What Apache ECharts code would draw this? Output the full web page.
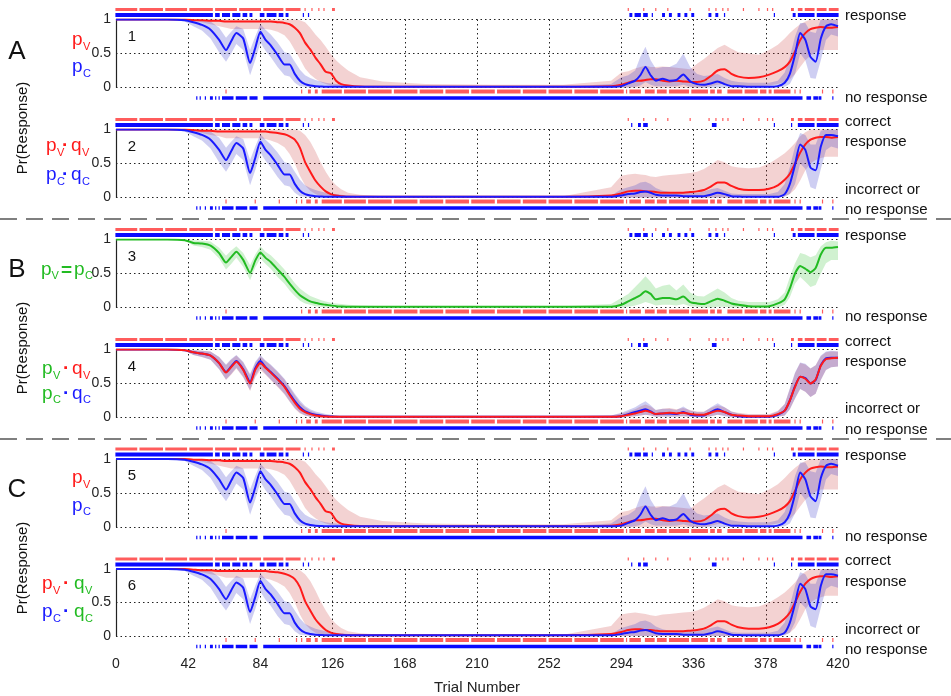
<!DOCTYPE html>
<html><head><meta charset="utf-8">
<script src="https://cdn.jsdelivr.net/npm/echarts@6/dist/echarts.min.js"></script>
<style>html,body{margin:0;padding:0;background:#fff}#c{width:951px;height:696px}</style>
</head><body><div id="c"></div><script>
// ---------- DATA ----------
var T = [0,30,40,45,50,55,60,64,67,70, 74,78,81,84,87,90,94,98,101,104, 107,110,113,116,119,122,125,128,131,135,
  142,155,180,220,260,288,294,298,302,305, 308,311,314,318,322,326,330,334,338,342, 346,350,354,358,362,368,374,380,385,389,
  392,395,398,401,404,407,410,413,416,420];
var xTicks = [0,42,84,126,168,210,252,294,336,378,420];

// panel 1 & 5 : p_V (red) and p_C (blue)
var pV1 = [1,1,1,0.99,0.99,0.98,0.98,0.97,0.97,0.97, 0.97,0.97,0.97,0.97,0.97,0.97,0.96,0.95,0.93,0.88,
  0.80,0.66,0.56,0.44,0.34,0.23,0.21,0.10,0.05,0.03, 0.015,0.01,0.01,0.01,0.01,0.02,0.04,0.07,0.10,0.10,
  0.11,0.12,0.12,0.10,0.09,0.10,0.09,0.08,0.08,0.10, 0.17,0.25,0.27,0.20,0.16,0.14,0.15,0.19,0.24,0.30,
  0.38,0.53,0.70,0.80,0.86,0.88,0.89,0.88,0.88,0.89];
var pV1Hi = [1,1,1,1,1,1,1,1,1,1, 1,1,1,1,1,1,1,1,1,1,
  0.99,0.96,0.88,0.78,0.70,0.60,0.49,0.40,0.33,0.25, 0.15,0.09,0.05,0.04,0.04,0.10,0.22,0.24,0.28,0.30,
  0.32,0.30,0.30,0.31,0.30,0.29,0.28,0.27,0.35,0.42, 0.50,0.58,0.63,0.57,0.52,0.50,0.48,0.55,0.63,0.72,
  0.80,0.87,0.93,0.97,1,1,1,1,1,1];
var pV1Lo = [1,1,1,0.99,0.96,0.93,0.90,0.88,0.86,0.86, 0.86,0.86,0.86,0.86,0.86,0.85,0.82,0.77,0.68,0.55,
  0.42,0.28,0.19,0.13,0.08,0.05,0.03,0.02,0.01,0, 0,0,0,0,0,0,0,0,0,0,
  0,0,0,0,0,0,0,0,0,0, 0.02,0.04,0.05,0.03,0.02,0.02,0.02,0.03,0.05,0.08,
  0.12,0.20,0.30,0.40,0.47,0.52,0.55,0.55,0.55,0.55];
var pC1 = [1,1,0.99,0.96,0.92,0.85,0.70,0.55,0.68,0.80, 0.72,0.36,0.58,0.82,0.70,0.62,0.48,0.34,0.34,0.20,
  0.10,0.05,0.03,0.02,0.015,0.01,0.01,0.01,0.01,0.01, 0.01,0.01,0.01,0.01,0.01,0.01,0.02,0.06,0.10,0.18,
  0.30,0.18,0.10,0.13,0.10,0.11,0.19,0.09,0.05,0.04, 0.06,0.09,0.05,0.02,0.02,0.01,0.01,0.01,0.02,0.07,
  0.20,0.48,0.80,0.70,0.45,0.38,0.72,0.90,0.93,0.90];
var pC1Hi = [1,1,1,1,1,0.97,0.88,0.73,0.82,0.90, 0.86,0.55,0.75,0.93,0.85,0.78,0.66,0.52,0.50,0.38,
  0.26,0.18,0.14,0.11,0.09,0.07,0.06,0.05,0.04,0.03, 0.02,0.02,0.01,0.01,0.01,0.05,0.15,0.18,0.25,0.45,
  0.60,0.40,0.28,0.30,0.30,0.35,0.50,0.30,0.20,0.17, 0.18,0.20,0.14,0.10,0.08,0.07,0.07,0.07,0.10,0.22,
  0.45,0.75,0.95,0.95,0.82,0.80,1,1,1,1];
var pC1Lo = [1,1,0.97,0.90,0.84,0.72,0.52,0.38,0.50,0.64, 0.55,0.18,0.40,0.66,0.54,0.45,0.30,0.18,0.16,0.07,
  0.02,0.01,0,0,0,0,0,0,0,0, 0,0,0,0,0,0,0,0,0.01,0.03,
  0.08,0.04,0.02,0.02,0.02,0.02,0.04,0.01,0,0, 0,0,0,0,0,0,0,0,0,0.01,
  0.05,0.20,0.50,0.40,0.14,0.13,0.40,0.70,0.78,0.75];

// panel 2 & 6 : p_V*q_V (red) and p_C*q_C (blue)
var pV2 = [1,1,1,0.99,0.98,0.98,0.97,0.97,0.97,0.97, 0.97,0.97,0.97,0.97,0.97,0.96,0.95,0.93,0.90,0.85,
  0.73,0.52,0.38,0.25,0.16,0.09,0.05,0.03,0.02,0.01, 0.01,0.01,0.01,0.01,0.01,0.03,0.06,0.09,0.10,0.10,
  0.09,0.09,0.08,0.07,0.07,0.07,0.07,0.08,0.09,0.11, 0.16,0.22,0.22,0.17,0.13,0.11,0.11,0.13,0.18,0.26,
  0.35,0.50,0.66,0.78,0.85,0.88,0.89,0.89,0.88,0.89];
var pV2Hi = [1,1,1,1,1,1,1,1,1,1, 1,1,1,1,1,1,1,1,1,1,
  0.98,0.92,0.82,0.68,0.52,0.38,0.26,0.18,0.12,0.07, 0.04,0.02,0.02,0.02,0.02,0.15,0.32,0.34,0.35,0.34,
  0.33,0.31,0.30,0.32,0.33,0.34,0.35,0.36,0.38,0.42, 0.48,0.55,0.52,0.46,0.44,0.43,0.44,0.50,0.58,0.65,
  0.72,0.80,0.90,0.96,1,1,1,1,1,1];
var pV2Lo = [1,1,1,0.98,0.95,0.92,0.90,0.87,0.87,0.87, 0.87,0.87,0.87,0.87,0.86,0.84,0.80,0.74,0.64,0.50,
  0.32,0.18,0.10,0.05,0.02,0.01,0,0,0,0, 0,0,0,0,0,0,0,0,0,0,
  0,0,0,0,0,0,0,0,0,0, 0,0,0,0,0,0,0,0,0,0.02,
  0.05,0.12,0.25,0.40,0.50,0.55,0.58,0.60,0.60,0.60];
var pC2 = [1,1,0.99,0.96,0.92,0.85,0.70,0.55,0.68,0.80, 0.72,0.36,0.58,0.82,0.70,0.62,0.48,0.34,0.34,0.20,
  0.10,0.05,0.03,0.02,0.015,0.01,0.01,0.01,0.01,0.01, 0.01,0.01,0.01,0.01,0.01,0.01,0.03,0.05,0.06,0.08,
  0.09,0.07,0.04,0.03,0.03,0.03,0.02,0.02,0.02,0.02, 0.04,0.07,0.05,0.02,0.015,0.01,0.01,0.01,0.01,0.05,
  0.20,0.48,0.78,0.70,0.44,0.40,0.75,0.92,0.92,0.90];
var pC2Hi = [1,1,1,1,1,0.97,0.88,0.73,0.82,0.90, 0.86,0.55,0.75,0.93,0.85,0.78,0.66,0.52,0.50,0.38,
  0.26,0.18,0.14,0.11,0.09,0.07,0.06,0.05,0.04,0.03, 0.02,0.02,0.01,0.01,0.01,0.03,0.12,0.15,0.18,0.22,
  0.23,0.20,0.14,0.10,0.08,0.07,0.07,0.07,0.07,0.09, 0.12,0.14,0.10,0.06,0.05,0.05,0.05,0.05,0.08,0.20,
  0.45,0.75,0.95,0.92,0.78,0.78,0.98,1,1,1];
var pC2Lo = [1,1,0.97,0.90,0.84,0.72,0.52,0.38,0.50,0.64, 0.55,0.18,0.40,0.66,0.54,0.45,0.30,0.18,0.16,0.07,
  0.02,0.01,0,0,0,0,0,0,0,0, 0,0,0,0,0,0,0,0,0,0,
  0,0,0,0,0,0,0,0,0,0, 0,0,0,0,0,0,0,0,0,0.01,
  0.05,0.20,0.50,0.42,0.15,0.12,0.42,0.70,0.75,0.72];

// panel 3 : p_V = p_C (green)
var g3 = [1,1,0.99,0.95,0.94,0.91,0.80,0.66,0.74,0.82, 0.70,0.51,0.69,0.81,0.73,0.67,0.56,0.45,0.35,0.26,
  0.18,0.13,0.09,0.07,0.05,0.04,0.03,0.02,0.015,0.01, 0.01,0.01,0.01,0.01,0.01,0.01,0.04,0.09,0.14,0.18,
  0.24,0.20,0.12,0.14,0.14,0.12,0.16,0.08,0.06,0.05, 0.09,0.13,0.10,0.06,0.04,0.02,0.015,0.02,0.06,0.12,
  0.28,0.50,0.61,0.57,0.52,0.58,0.78,0.88,0.88,0.89];
var g3Hi = [1,1,1,0.99,0.98,0.97,0.88,0.76,0.84,0.90, 0.80,0.62,0.78,0.90,0.82,0.77,0.67,0.56,0.46,0.36,
  0.28,0.22,0.17,0.14,0.11,0.09,0.07,0.06,0.05,0.04, 0.03,0.02,0.02,0.02,0.02,0.05,0.14,0.20,0.30,0.38,
  0.46,0.38,0.28,0.32,0.34,0.25,0.34,0.22,0.17,0.16, 0.22,0.28,0.22,0.14,0.10,0.08,0.08,0.08,0.12,0.22,
  0.45,0.65,0.80,0.78,0.74,0.77,0.90,0.96,0.98,0.97];
var g3Lo = [1,1,0.98,0.91,0.89,0.85,0.72,0.56,0.64,0.73, 0.60,0.40,0.59,0.72,0.64,0.57,0.45,0.35,0.25,0.17,
  0.10,0.06,0.04,0.02,0.01,0,0,0,0,0, 0,0,0,0,0,0,0,0.01,0.03,0.05,
  0.08,0.06,0.03,0.04,0.04,0.03,0.05,0.02,0.01,0, 0,0.01,0.01,0,0,0,0,0,0,0.04,
  0.15,0.35,0.45,0.38,0.30,0.33,0.50,0.65,0.70,0.70];

// panel 4 : p_V*q_V (red) and p_C*q_C (blue)
var r4 = [1,1,0.99,0.96,0.94,0.91,0.80,0.66,0.74,0.82, 0.70,0.50,0.70,0.80,0.73,0.66,0.56,0.45,0.33,0.22,
  0.13,0.08,0.05,0.03,0.02,0.015,0.01,0.01,0.01,0.01, 0.01,0.01,0.01,0.01,0.01,0.01,0.02,0.04,0.06,0.08,
  0.10,0.08,0.05,0.06,0.07,0.06,0.07,0.05,0.04,0.04, 0.07,0.10,0.08,0.04,0.03,0.02,0.02,0.02,0.05,0.10,
  0.25,0.45,0.60,0.57,0.50,0.56,0.76,0.86,0.87,0.88];
var r4Hi = [1,1,1,0.99,0.98,0.97,0.89,0.77,0.85,0.91, 0.81,0.62,0.80,0.90,0.83,0.77,0.67,0.56,0.44,0.33,
  0.22,0.15,0.10,0.07,0.05,0.04,0.03,0.03,0.02,0.02, 0.02,0.02,0.02,0.02,0.02,0.03,0.06,0.09,0.12,0.16,
  0.19,0.16,0.11,0.13,0.14,0.12,0.14,0.11,0.09,0.09, 0.14,0.18,0.15,0.09,0.07,0.05,0.05,0.05,0.10,0.20,
  0.42,0.65,0.80,0.78,0.72,0.77,0.90,0.96,0.97,0.97];
var r4Lo = [1,1,0.98,0.92,0.89,0.85,0.71,0.55,0.63,0.72, 0.59,0.39,0.59,0.70,0.63,0.55,0.45,0.34,0.23,0.13,
  0.06,0.03,0.01,0,0,0,0,0,0,0, 0,0,0,0,0,0,0,0.01,0.02,0.03,
  0.04,0.03,0.01,0.02,0.02,0.02,0.02,0.01,0.01,0.01, 0.02,0.04,0.03,0.01,0,0,0,0,0.01,0.03,
  0.12,0.28,0.42,0.38,0.30,0.35,0.55,0.70,0.74,0.75];
var b4 = [1,1,0.99,0.96,0.94,0.91,0.80,0.67,0.75,0.83, 0.71,0.52,0.72,0.83,0.74,0.67,0.57,0.46,0.35,0.24,
  0.15,0.09,0.06,0.04,0.03,0.02,0.015,0.01,0.01,0.01, 0.01,0.01,0.01,0.01,0.01,0.01,0.02,0.05,0.08,0.10,
  0.12,0.09,0.05,0.06,0.06,0.05,0.08,0.04,0.03,0.03, 0.08,0.12,0.08,0.04,0.02,0.01,0.01,0.01,0.04,0.10,
  0.25,0.46,0.60,0.58,0.50,0.55,0.77,0.87,0.88,0.88];
var b4Hi = [1,1,1,0.99,0.98,0.97,0.89,0.78,0.86,0.92, 0.82,0.64,0.82,0.92,0.84,0.78,0.68,0.57,0.46,0.35,
  0.25,0.17,0.12,0.09,0.07,0.05,0.04,0.03,0.02,0.02, 0.02,0.02,0.02,0.02,0.02,0.03,0.07,0.11,0.15,0.20,
  0.24,0.18,0.11,0.13,0.13,0.11,0.16,0.10,0.08,0.08, 0.15,0.21,0.15,0.09,0.06,0.04,0.04,0.04,0.09,0.20,
  0.43,0.66,0.81,0.79,0.72,0.77,0.91,0.97,0.98,0.97];
var b4Lo = [1,1,0.98,0.92,0.89,0.85,0.71,0.56,0.64,0.73, 0.60,0.40,0.61,0.73,0.64,0.56,0.46,0.35,0.24,0.14,
  0.07,0.03,0.01,0,0,0,0,0,0,0, 0,0,0,0,0,0,0,0.01,0.02,0.03,
  0.04,0.03,0.01,0.01,0.01,0.01,0.02,0.01,0,0, 0.02,0.04,0.02,0,0,0,0,0,0.01,0.03,
  0.12,0.28,0.42,0.38,0.30,0.35,0.55,0.70,0.74,0.75];

// trial rasters: runs of trials [first, last]
var respVTop = [[0,12],[14,27],[29,41],[43,56],[58,70],[72,84],[86,97],[99,107],[110,110],[114,114],[118,118],[121,121],[126,127],
  [298,298],[307,307],[314,314],[321,321],[334,334],[345,345],[349,349],[353,353],[356,356],[365,365],[374,374],[379,379],[382,382],
  [393,394],[397,399],[401,406],[408,413],[415,420]];
var respCTop = [[0,56],[58,60],[62,66],[68,72],[74,76],[78,79],[84,86],[88,93],[95,97],[99,100],[109,109],[112,112],
  [299,300],[302,305],[307,309],[312,312],[318,319],[322,323],[327,328],[331,332],[335,336],[345,346],[349,350],[354,354],
  [383,383],[394,395],[397,406],[408,420]];
var respVBot = [[64,64],[108,108],[112,113],[116,117],[120,131],[133,145],[147,160],[162,175],[177,190],[192,205],[207,220],
  [222,235],[237,250],[252,265],[267,280],[282,295],[297,297],[299,305],[308,313],[315,320],[322,333],[335,344],[346,348],
  [350,352],[356,364],[366,373],[375,378],[380,381],[383,392],[395,395],[398,398],[411,411],[417,417]];
var corrVTop = respVTop;
var corrCTop = [[0,56],[58,60],[62,66],[68,72],[74,76],[78,79],[84,86],[88,93],[95,97],[99,100],[109,109],[112,112],
  [300,300],[304,305],[307,309],[347,349],[383,383],[393,393],[397,406],[408,420]];
var corrVBot = [[64,64],[81,81],[95,95],[105,105],[108,108],[111,113],[116,117],[120,131],[133,145],[147,160],[162,175],
  [177,190],[192,205],[207,220],[222,235],[237,250],[252,265],[267,280],[282,295],[297,297],[299,305],[308,313],[315,320],
  [322,333],[335,344],[346,348],[350,352],[356,364],[366,373],[375,378],[380,381],[383,392],[395,395],[398,398],[411,411],[417,417]];
var cBot = [[47,47],[49,49],[52,52],[55,56],[58,58],[60,60],[62,68],[70,76],[78,82],[86,399],[402,404],[406,408],[409,410],[417,417]];

// ---------- STYLE ----------
var FONT = '"Liberation Sans", Arial, Helvetica, sans-serif';
var RED = '#ff1a1a', BLUE = '#1a1aff', GREEN = '#22bb22';
var RBAND = 'rgba(200,50,50,0.22)', BBAND = 'rgba(50,50,200,0.24)', GBAND = 'rgba(40,190,40,0.22)';
var RTICK = '#ff5c5c', BTICK = '#0a0aff';
var TOPS = [19.5, 129.5, 239.5, 349.5, 459, 569];
var H = 68;

var grids = [], xAxes = [], yAxes = [], series = [];
var dotted = {color: '#222', width: 1, type: [1.5, 3]};
for (var i = 0; i < 6; i++) {
  grids.push({left: 116, width: 722, top: TOPS[i], height: H});
  xAxes.push({gridIndex: i, type: 'value', min: 0, max: 420, interval: 42,
    axisLine: {show: false}, axisTick: {show: false},
    axisLabel: {show: i === 5, margin: 21, fontSize: 14, color: '#222', fontFamily: FONT},
    splitLine: {show: true, showMinLine: false, showMaxLine: false, lineStyle: dotted},
    name: i === 5 ? 'Trial Number' : '', nameLocation: 'middle', nameGap: 44,
    nameTextStyle: {fontSize: 15, color: '#222', fontFamily: FONT}});
  yAxes.push({gridIndex: i, type: 'value', min: 0, max: 1, interval: 0.5,
    axisLine: {show: true, lineStyle: {color: '#222', width: 1.2}}, axisTick: {show: false},
    axisLabel: {margin: 5, fontSize: 14, color: '#222', fontFamily: FONT},
    splitLine: {show: true, lineStyle: dotted}});
}

function band(idx, lo, hi, fill) {
  return {type: 'custom', xAxisIndex: idx, yAxisIndex: idx, silent: true, z: 1, data: [[0, 0]],
    renderItem: function (p, api) {
      var pts = [];
      for (var k = 0; k < T.length; k++) pts.push(api.coord([T[k], hi[k]]));
      for (var j = T.length - 1; j >= 0; j--) pts.push(api.coord([T[j], lo[j]]));
      return {type: 'polygon', shape: {points: pts}, style: {fill: fill}};
    }};
}
function line(idx, m, color, z) {
  return {type: 'line', xAxisIndex: idx, yAxisIndex: idx, silent: true, z: z || 3,
    data: T.map(function (t, k) { return [t, m[k]]; }),
    showSymbol: false, symbol: 'none', smooth: 0.2, lineStyle: {color: color, width: 2}};
}
function raster(idx, runs, color, atTop, offset, h) {
  return {type: 'custom', xAxisIndex: idx, yAxisIndex: idx, silent: true, clip: false, z: 4, data: runs,
    renderItem: function (p, api) {
      var yv = atTop ? 1 : 0;
      var a = api.coord([api.value(0), yv]);
      var b = api.coord([api.value(1), yv]);
      return {type: 'rect', shape: {x: a[0] - 0.6, y: a[1] + offset - h / 2, width: b[0] - a[0] + 1.2, height: h},
        style: {fill: color}};
    }};
}
function rasters(idx, vTop, cTop, vBot) {
  series.push(raster(idx, vTop, RTICK, true, -10, 3));
  series.push(raster(idx, cTop, BTICK, true, -4.5, 4));
  series.push(raster(idx, vBot, RTICK, false, 4, 4));
  series.push(raster(idx, cBot, BTICK, false, 10.5, 3.5));
}

// panel 1
series.push(band(0, pV1Lo, pV1Hi, RBAND), band(0, pC1Lo, pC1Hi, BBAND), line(0, pV1, RED, 3), line(0, pC1, BLUE, 3));
rasters(0, respVTop, respCTop, respVBot);
// panel 2
series.push(band(1, pV2Lo, pV2Hi, RBAND), band(1, pC2Lo, pC2Hi, BBAND), line(1, pV2, RED, 3), line(1, pC2, BLUE, 3));
rasters(1, corrVTop, corrCTop, corrVBot);
// panel 3
series.push(band(2, g3Lo, g3Hi, GBAND), line(2, g3, GREEN, 3));
rasters(2, respVTop, respCTop, respVBot);
// panel 4
series.push(band(3, r4Lo, r4Hi, RBAND), band(3, b4Lo, b4Hi, BBAND), line(3, b4, BLUE, 3), line(3, r4, RED, 3));
rasters(3, corrVTop, corrCTop, corrVBot);
// panel 5
series.push(band(4, pV1Lo, pV1Hi, RBAND), band(4, pC1Lo, pC1Hi, BBAND), line(4, pV1, RED, 3), line(4, pC1, BLUE, 3));
rasters(4, respVTop, respCTop, respVBot);
// panel 6
series.push(band(5, pV2Lo, pV2Hi, RBAND), band(5, pC2Lo, pC2Hi, BBAND), line(5, pV2, RED, 3), line(5, pC2, BLUE, 3));
rasters(5, corrVTop, corrCTop, corrVBot);

// ---------- TEXT ----------
var G = [];
function txt(x, y, s, color, font, align, extra) {
  var o = {type: 'text', x: x, y: y, silent: true, z: 10,
    style: {text: s, fill: color, font: font + ' ' + FONT, align: align || 'left', verticalAlign: 'middle'}};
  if (extra) for (var k in extra) o[k] = extra[k];
  G.push(o);
}
// legend pieces: [x, y, text, color, kind]  kind 1 = subscript, 2 = operator
function pieces(list) {
  list.forEach(function (q) {
    if (q[4] === 1) txt(q[0], q[1], q[2], q[3], '11px');
    else if (q[4] === 2) txt(q[0], q[1], q[2], q[3], 'bold 19px');
    else txt(q[0], q[1], q[2], q[3], '19px');
  });
}
// panel letters
txt(17, 52, 'A', '#111', '26px', 'center');
txt(17, 270, 'B', '#111', '26px', 'center');
txt(17, 490, 'C', '#111', '26px', 'center');
[128, 348, 568].forEach(function (y) { txt(23, y, 'Pr(Response)', '#111', '15px', 'center', {rotation: Math.PI / 2}); });
// panel numbers
for (var n = 0; n < 6; n++) txt(132, TOPS[n] + 17, String(n + 1), '#111', '15px', 'center');
// legends
pieces([[72, 40, 'p', RED], [83, 47, 'V', RED, 1], [72, 67, 'p', BLUE], [83, 73.5, 'C', BLUE, 1]]);
pieces([[46, 146, 'p', RED], [57, 153, 'V', RED, 1], [62, 146, '·', RED, 2], [71, 146, 'q', RED], [82, 153, 'V', RED, 1],
  [46, 175, 'p', BLUE], [57, 181.5, 'C', BLUE, 1], [62, 175, '·', BLUE, 2], [71, 175, 'q', BLUE], [82, 181.5, 'C', BLUE, 1]]);
pieces([[41, 270, 'p', GREEN], [51.5, 276, 'V', GREEN, 1], [61, 271, '=', GREEN, 2], [74, 270, 'p', GREEN], [85, 276, 'C', GREEN, 1]]);
pieces([[42, 369, 'p', GREEN], [53, 376, 'V', GREEN, 1], [63, 369, '·', RED, 2], [72, 369, 'q', RED], [83, 376, 'V', RED, 1],
  [42, 394, 'p', GREEN], [53, 400, 'C', GREEN, 1], [63, 394, '·', BLUE, 2], [72, 394, 'q', BLUE], [83, 400, 'C', BLUE, 1]]);
pieces([[72, 478, 'p', RED], [83, 485, 'V', RED, 1], [72, 506, 'p', BLUE], [83, 512, 'C', BLUE, 1]]);
pieces([[42, 584, 'p', RED], [53, 591, 'V', RED, 1], [63, 584, '·', RED, 2], [74, 584, 'q', GREEN], [85, 591, 'V', GREEN, 1],
  [42, 612, 'p', BLUE], [53, 619, 'C', BLUE, 1], [63, 612, '·', BLUE, 2], [74, 612, 'q', GREEN], [85, 619, 'C', GREEN, 1]]);
// right-side labels
[[16, 'response'], [98, 'no response'],
 [122, 'correct'], [142, 'response'], [190, 'incorrect or'], [210, 'no response'],
 [236, 'response'], [317, 'no response'],
 [342, 'correct'], [362, 'response'], [409, 'incorrect or'], [430, 'no response'],
 [456, 'response'], [537, 'no response'],
 [561, 'correct'], [582, 'response'], [630, 'incorrect or'], [650, 'no response']].forEach(function (r) {
  txt(845, r[0], r[1], '#111', '15px');
});
// dashed separators
[219, 439].forEach(function (y) {
  G.push({type: 'line', silent: true, z: 10, shape: {x1: 0, y1: y, x2: 951, y2: y},
    style: {stroke: '#555', lineWidth: 1.6, lineDash: [17, 9]}});
});

var chart = echarts.init(document.getElementById('c'), null, {renderer: 'canvas'});
chart.setOption({
  animation: false,
  backgroundColor: '#fff',
  textStyle: {fontFamily: FONT},
  grid: grids, xAxis: xAxes, yAxis: yAxes, series: series, graphic: G
});
</script></body></html>
